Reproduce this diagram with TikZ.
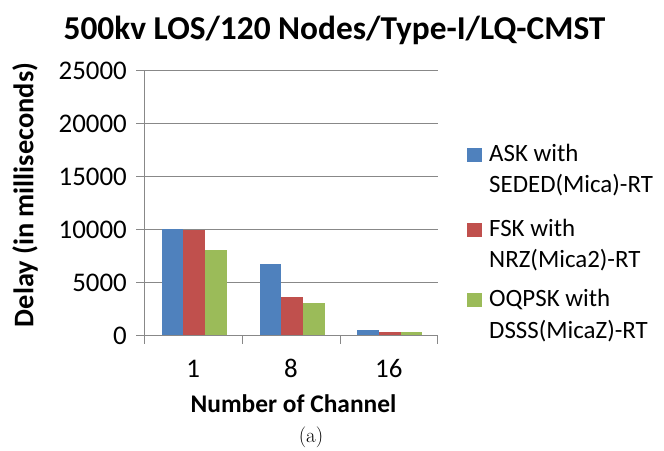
\documentclass[tikz,border=0pt]{standalone}
\usepackage{fontspec}
\newfontfamily\calib{Carlito}
\definecolor{cblue}{HTML}{4F81BD}
\definecolor{cred}{HTML}{C0504D}
\definecolor{cgreen}{HTML}{9BBB59}
\definecolor{gridc}{HTML}{888888}
\tikzset{
  lbl/.style={inner sep=0pt, font=\calib\fontsize{27}{32}\selectfont},
  ttl/.style={inner sep=0pt, font=\calib\bfseries\fontsize{33.5}{40}\selectfont},
  axt/.style={inner sep=0pt, font=\calib\bfseries\fontsize{25.5}{30}\selectfont},
  leg/.style={inner sep=0pt, align=left, font=\calib\fontsize{25}{31.5}\selectfont},
  gridln/.style={draw=gridc, line width=1.1bp},
}
\begin{document}
\begin{tikzpicture}[x=1bp,y=-1bp]
\useasboundingbox[fill=white] (0,0) rectangle (664,451);
% title
\node[ttl, anchor=base] (title) at (334.5,40) {500kv LOS/120 Nodes/Type-I/LQ-CMST};
% gridlines and y labels
\foreach \v/\y in {0/335.7,5000/282.7,10000/229.7,15000/176.7,20000/123.7,25000/70.7}{
  \draw[gridln] (136,\y) -- (437.7,\y);
  \node[lbl, anchor=east] (yl\v) at (127,\y) {\v};
}
% axes
\draw[gridln] (144.3,70.7) -- (144.3,335.7);
\foreach \x in {144.3,242.3,340.7,437.7}{
  \draw[gridln] (\x,335.7) -- (\x,343.7);
}
% bars
\def\bw{21.7}
\foreach \x/\t/\c in {161.7/228.7/cblue,183.4/230.0/cred,205.1/250.3/cgreen,
                      259.5/264.0/cblue,281.2/297.0/cred,302.9/303.3/cgreen,
                      357.3/330.4/cblue,379.0/331.7/cred,400.7/331.8/cgreen}{
  \fill[\c] (\x,\t) rectangle ({\x+\bw},335.7);
}
\draw[gridln] (144.3,335.7) -- (437.7,335.7);
% category labels
\node[lbl, anchor=base] (c1) at (193.2,377) {1};
\node[lbl, anchor=base] (c8) at (291,377) {8};
\node[lbl, anchor=base] (c16) at (388.8,377) {16};
% axis titles
\node[axt, anchor=base] (xt) at (293.5,412) {Number of Channel};
\node[axt, anchor=base, rotate=90, font=\calib\bfseries\fontsize{28.5}{33}\selectfont] (yt) at (33.3,195) {Delay (in milliseconds)};
\node[inner sep=0pt, anchor=base, font=\fontsize{21}{25}\selectfont] (cap) at (311,442) {(a)};
% legend
\fill[cblue]  (467.3,148.3) rectangle (481.7,161.7);
\fill[cred]   (467.3,223.3) rectangle (481.7,236.7);
\fill[cgreen] (467.3,293.3) rectangle (481.7,306.7);
\node[leg, anchor=base west] (l1) at (489,192.7) {ASK with\\SEDED(Mica)-RT};
\node[leg, anchor=base west] (l2) at (489,267.5) {FSK with\\NRZ(Mica2)-RT};
\node[leg, anchor=base west] (l3) at (489,338.2) {OQPSK with\\DSSS(MicaZ)-RT};
\end{tikzpicture}
\end{document}
